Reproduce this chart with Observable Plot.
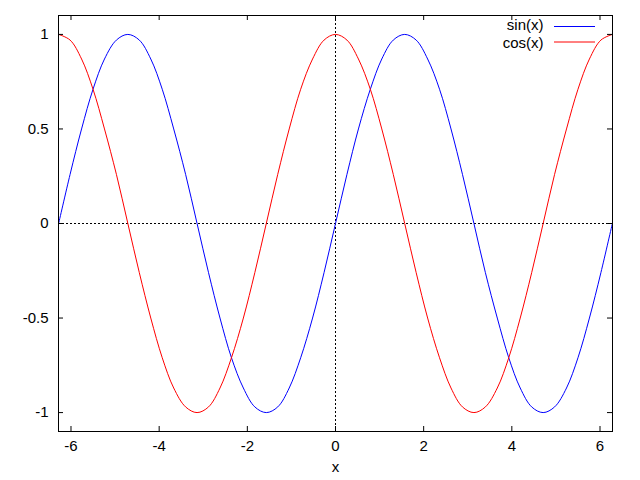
<!DOCTYPE html>
<html>
<head>
<meta charset="utf-8">
<script src="https://cdn.jsdelivr.net/npm/d3@7"></script>
<script src="https://cdn.jsdelivr.net/npm/@observablehq/plot@0.6"></script>
<style>
  html, body { margin: 0; padding: 0; background: white; }
</style>
</head>
<body>
<div id="chart"></div>
<script>
// x sample positions (radians)
const xs = [-6.28, -6.02, -5.76, -5.50, -5.24, -4.97, -4.71, -4.45, -4.19, -3.93, -3.67, -3.40,
  -3.14, -2.88, -2.62, -2.36, -2.09, -1.83, -1.57, -1.31, -1.05, -0.79, -0.52, -0.26,
  0, 0.26, 0.52, 0.79, 1.05, 1.31, 1.57, 1.83, 2.09, 2.36, 2.62, 2.88,
  3.14, 3.40, 3.67, 3.93, 4.19, 4.45, 4.71, 4.97, 5.24, 5.50, 5.76, 6.02, 6.28];
const sinValues = [0, 0.26, 0.5, 0.71, 0.87, 0.97, 1, 0.97, 0.87, 0.71, 0.5, 0.26,
  0, -0.26, -0.5, -0.71, -0.87, -0.97, -1, -0.97, -0.87, -0.71, -0.5, -0.26,
  0, 0.26, 0.5, 0.71, 0.87, 0.97, 1, 0.97, 0.87, 0.71, 0.5, 0.26,
  0, -0.26, -0.5, -0.71, -0.87, -0.97, -1, -0.97, -0.87, -0.71, -0.5, -0.26, 0];
const cosValues = [1, 0.97, 0.87, 0.71, 0.5, 0.26, 0, -0.26, -0.5, -0.71, -0.87, -0.97,
  -1, -0.97, -0.87, -0.71, -0.5, -0.26, 0, 0.26, 0.5, 0.71, 0.87, 0.97,
  1, 0.97, 0.87, 0.71, 0.5, 0.26, 0, -0.26, -0.5, -0.71, -0.87, -0.97,
  -1, -0.97, -0.87, -0.71, -0.5, -0.26, 0, 0.26, 0.5, 0.71, 0.87, 0.97, 1];
const seriesNames = ["sin(x)", "cos(x)"];
const seriesColors = ["#0000ff", "#ff0000"];
const xTicks = [-6, -4, -2, 0, 2, 4, 6];
const yTicks = [-1, -0.5, 0, 0.5, 1];
const yTickLabels = ["-1", "-0.5", "0", "0.5", "1"];
const xDomain = [-6.2832, 6.2832];
const yDomain = [-1.1, 1.1];
const xLabel = "x";

const sinData = xs.map((x, i) => ({x, y: sinValues[i]}));
const cosData = xs.map((x, i) => ({x, y: cosValues[i]}));

const W = 640, H = 480, mL = 58, mR = 28, mT = 15, mB = 49;
const fw = W - mL - mR, fh = H - mT - mB, tk = 5;

const plot = Plot.plot({
  width: W, height: H,
  marginLeft: mL, marginRight: mR, marginTop: mT, marginBottom: mB,
  x: {domain: xDomain},
  y: {domain: yDomain},
  style: {fontFamily: "'Liberation Sans', Arial, sans-serif", fontSize: "15px", color: "black", background: "white"},
  marks: [
    Plot.ruleY([0], {stroke: "black", strokeDasharray: "2,2", strokeWidth: 1}),
    Plot.ruleX([0], {stroke: "black", strokeDasharray: "2,2", strokeWidth: 1}),
    Plot.line(sinData, {x: "x", y: "y", stroke: seriesColors[0], strokeWidth: 1, curve: "catmull-rom"}),
    Plot.line(cosData, {x: "x", y: "y", stroke: seriesColors[1], strokeWidth: 1, curve: "catmull-rom"}),
    Plot.frame({stroke: "black", strokeWidth: 1}),
    Plot.tickX(xTicks, {x: d => d, insetTop: fh - tk, stroke: "black"}),
    Plot.tickX(xTicks, {x: d => d, insetBottom: fh - tk, stroke: "black"}),
    Plot.tickY(yTicks, {y: d => d, insetRight: fw - tk, stroke: "black"}),
    Plot.tickY(yTicks, {y: d => d, insetLeft: fw - tk, stroke: "black"}),
    Plot.axisX(xTicks, {tickSize: 0, tickPadding: 9, tickFormat: d => String(d), label: null}),
    Plot.axisY(yTicks, {tickSize: 0, tickPadding: 10, tickFormat: d => yTickLabels[yTicks.indexOf(d)], label: null}),
    Plot.text([xLabel], {text: d => d, frameAnchor: "bottom", dy: 36, lineAnchor: "middle", fill: "black"}),
    Plot.text([seriesNames[0]], {text: d => d, frameAnchor: "top-right", dx: -69, dy: 10, textAnchor: "end", lineAnchor: "middle", fill: "black"}),
    Plot.text([seriesNames[1]], {text: d => d, frameAnchor: "top-right", dx: -69, dy: 27.5, textAnchor: "end", lineAnchor: "middle", fill: "black"})
  ]
});

// legend line samples
const svg = d3.select(plot);
const xr = plot.scale("x").range;
const right = Math.max(...xr);
[0, 1].forEach(i => {
  const yy = mT + 11.5 + i * 15.5;
  svg.append("line")
    .attr("x1", right - 58).attr("x2", right - 17)
    .attr("y1", yy).attr("y2", yy)
    .attr("stroke", seriesColors[i]).attr("stroke-width", 1);
});

document.getElementById("chart").appendChild(plot);
</script>
</body>
</html>
